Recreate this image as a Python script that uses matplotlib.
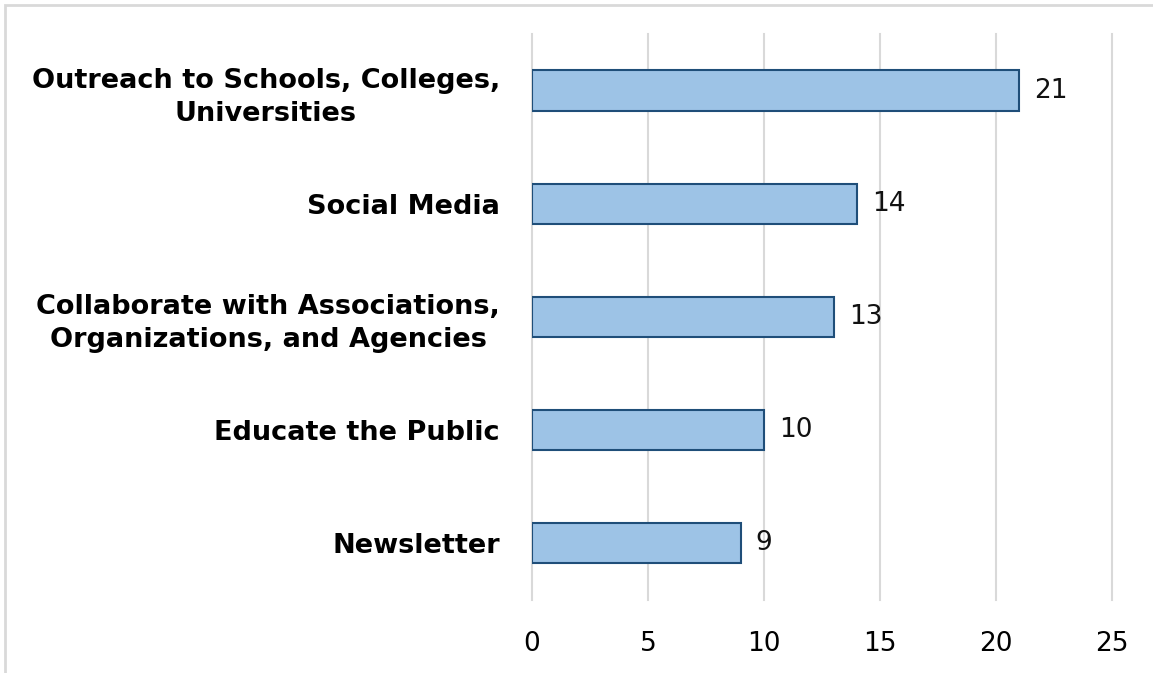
import numpy as np
import matplotlib
matplotlib.use("Agg")
import matplotlib.pyplot as plt
from matplotlib.patches import Rectangle

categories = ["Outreach to Schools, Colleges,\nUniversities",
              "Social Media",
              "Collaborate with Associations,\nOrganizations, and Agencies",
              "Educate the Public",
              "Newsletter"]
values = [21, 14, 13, 10, 9]
xticks = [0, 5, 10, 15, 20, 25]

plt.rcParams['font.family'] = ['DejaVu Sans']

fig = plt.figure(figsize=(11.53, 6.73), dpi=100)
ax = fig.add_axes([0.4614, 0.1085, 0.9644 - 0.4614, 0.9495 - 0.1085])

y = np.arange(len(categories))
ax.barh(y, values, height=0.355, color='#9DC3E6', edgecolor='#1F4E79',
        linewidth=1.5, zorder=3)

for yi, v in zip(y, values):
    ax.text(v + 0.65, yi, str(v), va='center', ha='left', fontsize=19,
            color='#111111')

ax.set_xlim(0, 25)
ax.set_ylim(len(categories) - 0.5, -0.5)
ax.set_xticks(xticks)
ax.set_xticklabels([str(t) for t in xticks], fontsize=19)
ax.set_yticks(y)
ax.set_yticklabels(categories, fontsize=19.5, fontweight='bold',
                   multialignment='center', linespacing=1.35)
ax.tick_params(axis='both', length=0)
ax.tick_params(axis='x', pad=22)
ax.tick_params(axis='y', pad=23)
ax.grid(axis='x', color='#D9D9D9', linewidth=1.5, zorder=0)
for gl in ax.get_xgridlines():
    gl.set_clip_on(False)
for s in ax.spines.values():
    s.set_visible(False)

fig.patches.append(Rectangle((5 / 1153, -0.05), 1.1, 1 - 5 / 673 + 0.05,
                             transform=fig.transFigure, fill=False,
                             edgecolor='#D9D9D9', linewidth=2))

fig.savefig("out.png", dpi=100)
